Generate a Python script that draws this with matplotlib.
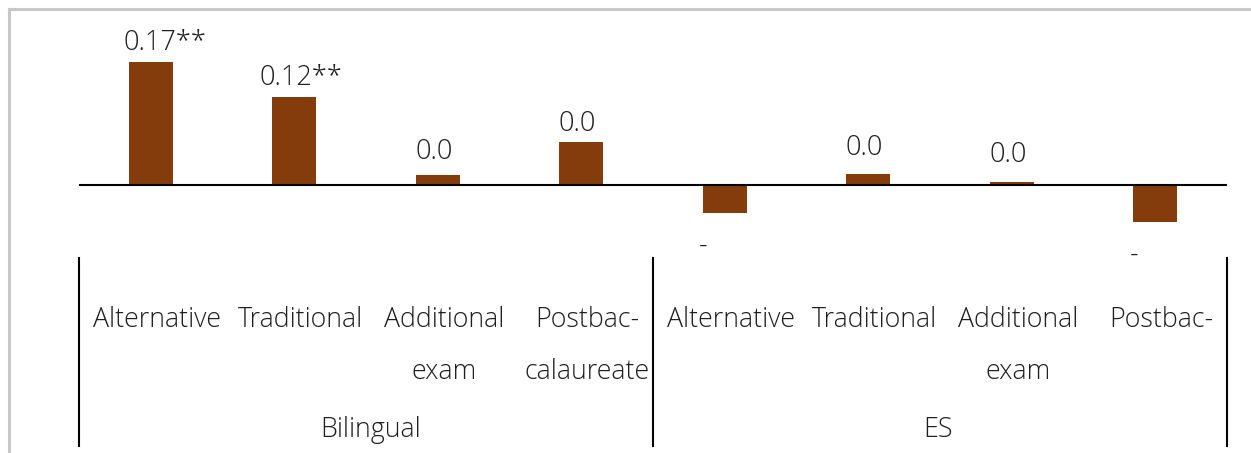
import matplotlib
matplotlib.use("Agg")
import matplotlib.pyplot as plt
import matplotlib.transforms as mtransforms
from matplotlib.lines import Line2D

# ---- data ----
groups = ["Bilingual", "ES"]
categories = [["Alternative", "Traditional", "Additional\nexam", "Postbac-\ncalaureate"],
              ["Alternative", "Traditional", "Additional\nexam", "Postbac-"]]
values = [0.170, 0.122, 0.014, 0.059, -0.039, 0.015, 0.004, -0.051]
value_labels = ["0.17**", "0.12**", "0.0", "0.0", "-", "0.0", "0.0", "-"]

# ---- style ----
W, H, DPI = 1251, 453, 100
bar_color = "#843C0C"
text_color = "#1f1f1f"
font = ["Open Sans", "DejaVu Sans"]
plt.rcParams["font.family"] = font
FW = "light"

fig = plt.figure(figsize=(W / DPI, H / DPI), dpi=DPI)
fig.patch.set_facecolor("white")

# light gray frame (top & left)
fig.add_artist(Line2D([8.5 / W, 8.5 / W], [0, 1 - 9 / H], color="#c8c8c8", lw=2.2,
                      transform=fig.transFigure))
fig.add_artist(Line2D([8.5 / W, 1], [1 - 9 / H, 1 - 9 / H], color="#c8c8c8", lw=2.2,
                      transform=fig.transFigure))

x0_px, x1_px, zero_px = 79, 1227, 185
px_per_unit = 723.5
ax = fig.add_axes([x0_px / W, 0, (x1_px - x0_px) / W, 1])
ax.set_xlim(-0.5, len(values) - 0.5)
ax.set_ylim(-(H - zero_px) / px_per_unit, zero_px / px_per_unit)
ax.axis("off")

xs = list(range(len(values)))
ax.bar(xs, values, width=0.31, color=bar_color, zorder=2)
ax.axhline(0, color="black", lw=1.5, zorder=3)

# value labels
label_dx = [14, 7, -4, -4, -22, -4, -4, -21]   # pixel nudges
label_dy = [5, 5, 9, 4, 19, 12, 13, 19]
for x, v, lab, dx, dy in zip(xs, values, value_labels, label_dx, label_dy):
    off = mtransforms.offset_copy(ax.transData, fig=fig, x=dx * 72 / DPI,
                                  y=(dy if v >= 0 else -dy) * 72 / DPI, units="points")
    ax.text(x, v, lab, transform=off, ha="center",
            va="bottom" if v >= 0 else "top", fontsize=19.5, color=text_color,
            fontweight=FW)

# category axis
blend = mtransforms.blended_transform_factory(ax.transData, fig.transFigure)
ncat = len(categories[0])
cat_dx = 6          # pixel nudge of category labels
group_dx = [5, -2]  # pixel nudge of group labels
for gi, (g, cats) in enumerate(zip(groups, categories)):
    for ci, c in enumerate(cats):
        xi = gi * ncat + ci
        lines = c.split("\n")
        for li, line in enumerate(lines):
            ypx = 320 + li * 52
            t = mtransforms.offset_copy(blend, fig=fig, x=cat_dx * 72 / DPI, y=0,
                                        units="points")
            ax.text(xi, 1 - ypx / H, line, transform=t, ha="center", va="center",
                    fontsize=19.3, color=text_color, fontweight=FW)
    t = mtransforms.offset_copy(blend, fig=fig, x=group_dx[gi] * 72 / DPI, y=0,
                                units="points")
    ax.text(gi * ncat + (ncat - 1) / 2, 1 - 430 / H, g, transform=t, ha="center",
            va="center", fontsize=19.3, color=text_color, fontweight=FW)

for sx in [-0.5, ncat - 0.5, 2 * ncat - 0.5]:
    ax.add_line(Line2D([sx, sx], [1 - 258 / H, 1 - 446 / H], transform=blend,
                       color="black", lw=1.5, clip_on=False))

fig.savefig("out.png", dpi=DPI, facecolor="white")
